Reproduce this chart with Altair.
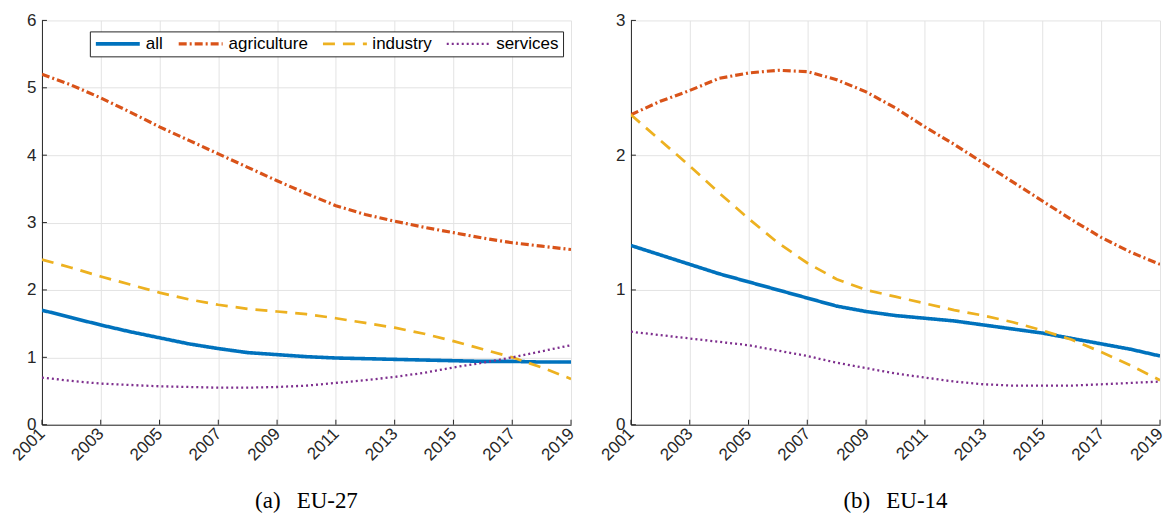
import altair as alt
import pandas as pd

years = list(range(2001, 2020))
tick_years = list(range(2001, 2020, 2))
sectors = ["all", "agriculture", "industry", "services"]
colors = ["#0072BD", "#D95319", "#EDB120", "#7E2F8E"]
dashes = [[1, 0], [8, 3, 2, 3], [12, 8], [2, 3]]
widths = [3.6, 2.3, 2.3, 2.3]

eu27_all = [1.70, 1.59, 1.48, 1.38, 1.29, 1.20, 1.13, 1.07, 1.04, 1.01, 0.99, 0.98, 0.97, 0.96, 0.95, 0.94, 0.94, 0.93, 0.93]
eu27_agriculture = [5.20, 5.04, 4.85, 4.64, 4.42, 4.22, 4.02, 3.82, 3.62, 3.43, 3.25, 3.12, 3.02, 2.93, 2.85, 2.77, 2.70, 2.65, 2.60]
eu27_industry = [2.45, 2.33, 2.20, 2.08, 1.96, 1.86, 1.78, 1.72, 1.68, 1.64, 1.58, 1.51, 1.44, 1.35, 1.24, 1.12, 1.00, 0.85, 0.68]
eu27_services = [0.70, 0.65, 0.61, 0.59, 0.57, 0.56, 0.55, 0.55, 0.56, 0.58, 0.62, 0.66, 0.71, 0.77, 0.85, 0.92, 1.00, 1.09, 1.18]

eu14_all = [1.33, 1.26, 1.19, 1.12, 1.06, 1.00, 0.94, 0.88, 0.84, 0.81, 0.79, 0.77, 0.74, 0.71, 0.68, 0.64, 0.60, 0.56, 0.51]
eu14_agriculture = [2.30, 2.40, 2.48, 2.57, 2.61, 2.63, 2.62, 2.56, 2.47, 2.35, 2.21, 2.08, 1.94, 1.80, 1.66, 1.52, 1.39, 1.28, 1.19]
eu14_industry = [2.30, 2.11, 1.92, 1.72, 1.53, 1.35, 1.20, 1.08, 1.00, 0.95, 0.90, 0.85, 0.81, 0.76, 0.70, 0.63, 0.54, 0.44, 0.33]
eu14_services = [0.69, 0.665, 0.64, 0.615, 0.59, 0.55, 0.51, 0.46, 0.42, 0.38, 0.35, 0.32, 0.30, 0.29, 0.29, 0.29, 0.30, 0.31, 0.32]


def long_df(series):
    rows = []
    for name, vals in zip(sectors, series):
        for y, v in zip(years, vals):
            rows.append({"year": y, "value": v, "sector": name})
    return pd.DataFrame(rows)


df27 = long_df([eu27_all, eu27_agriculture, eu27_industry, eu27_services])
df14 = long_df([eu14_all, eu14_agriculture, eu14_industry, eu14_services])

W, H = 530, 405
FONT = "Liberation Sans"
DARK = "#262626"


def panel(df, ymax, caption, show_legend):
    xs = alt.Scale(domain=[2001, 2019], nice=False, zero=False)
    ys = alt.Scale(domain=[0, ymax], nice=False)
    yticks = list(range(0, ymax + 1))
    legend = alt.Legend(
        title=None, orient="none", legendX=48, legendY=11, direction="horizontal",
        fillColor="white", strokeColor=DARK, padding=4, symbolType="stroke",
        symbolSize=1936, clipHeight=17, labelFontSize=17, labelFont=FONT, labelColor="black",
        columnPadding=13, labelOffset=4,
    ) if show_legend else None
    lines = alt.Chart(df).mark_line(clip=True).encode(
        x=alt.X("year:Q", scale=xs, title=None,
                axis=alt.Axis(values=tick_years, format="d", labelAngle=315, labelAlign="right",
                              labelBaseline="middle", labelPadding=6, ticks=False)),
        y=alt.Y("value:Q", scale=ys, title=None,
                axis=alt.Axis(values=yticks, format="d", labelPadding=6, ticks=False)),
        color=alt.Color("sector:N", scale=alt.Scale(domain=sectors, range=colors), legend=legend),
        strokeDash=alt.StrokeDash("sector:N", scale=alt.Scale(domain=sectors, range=dashes), legend=legend),
        strokeWidth=alt.StrokeWidth("sector:N", scale=alt.Scale(domain=sectors, range=widths), legend=legend),
    )
    xt = alt.Chart(pd.DataFrame({"year": tick_years})).mark_rule(color=DARK, strokeWidth=1).encode(
        x=alt.X("year:Q", scale=xs), y=alt.value(H), y2=alt.value(H - 5))
    yt = alt.Chart(pd.DataFrame({"value": yticks})).mark_rule(color=DARK, strokeWidth=1).encode(
        y=alt.Y("value:Q", scale=ys), x=alt.value(0), x2=alt.value(5))
    return alt.layer(xt, yt, lines).properties(
        width=W, height=H,
        title=alt.TitleParams(caption, orient="bottom", anchor="middle", font="Liberation Serif",
                              fontSize=23, fontWeight="normal", color="black", offset=27),
    ).resolve_scale(color="independent", strokeDash="independent", strokeWidth="independent")


chart = alt.hconcat(
    panel(df27, 6, "(a)\u2002\u2009EU-27", True),
    panel(df14, 3, "(b)\u2002\u2009EU-14", False),
    spacing=20,
).resolve_scale(color="independent", strokeDash="independent", strokeWidth="independent").configure_axis(
    labelFont=FONT, labelFontSize=17, labelColor=DARK, domainColor=DARK, domainWidth=1,
    gridColor="#e3e3e3", gridWidth=1,
).configure_view(stroke=None).properties(padding={"left": 0, "top": 3, "right": 0, "bottom": 0})

chart.save("out.html", embed_options={"renderer": "svg", "actions": False})
